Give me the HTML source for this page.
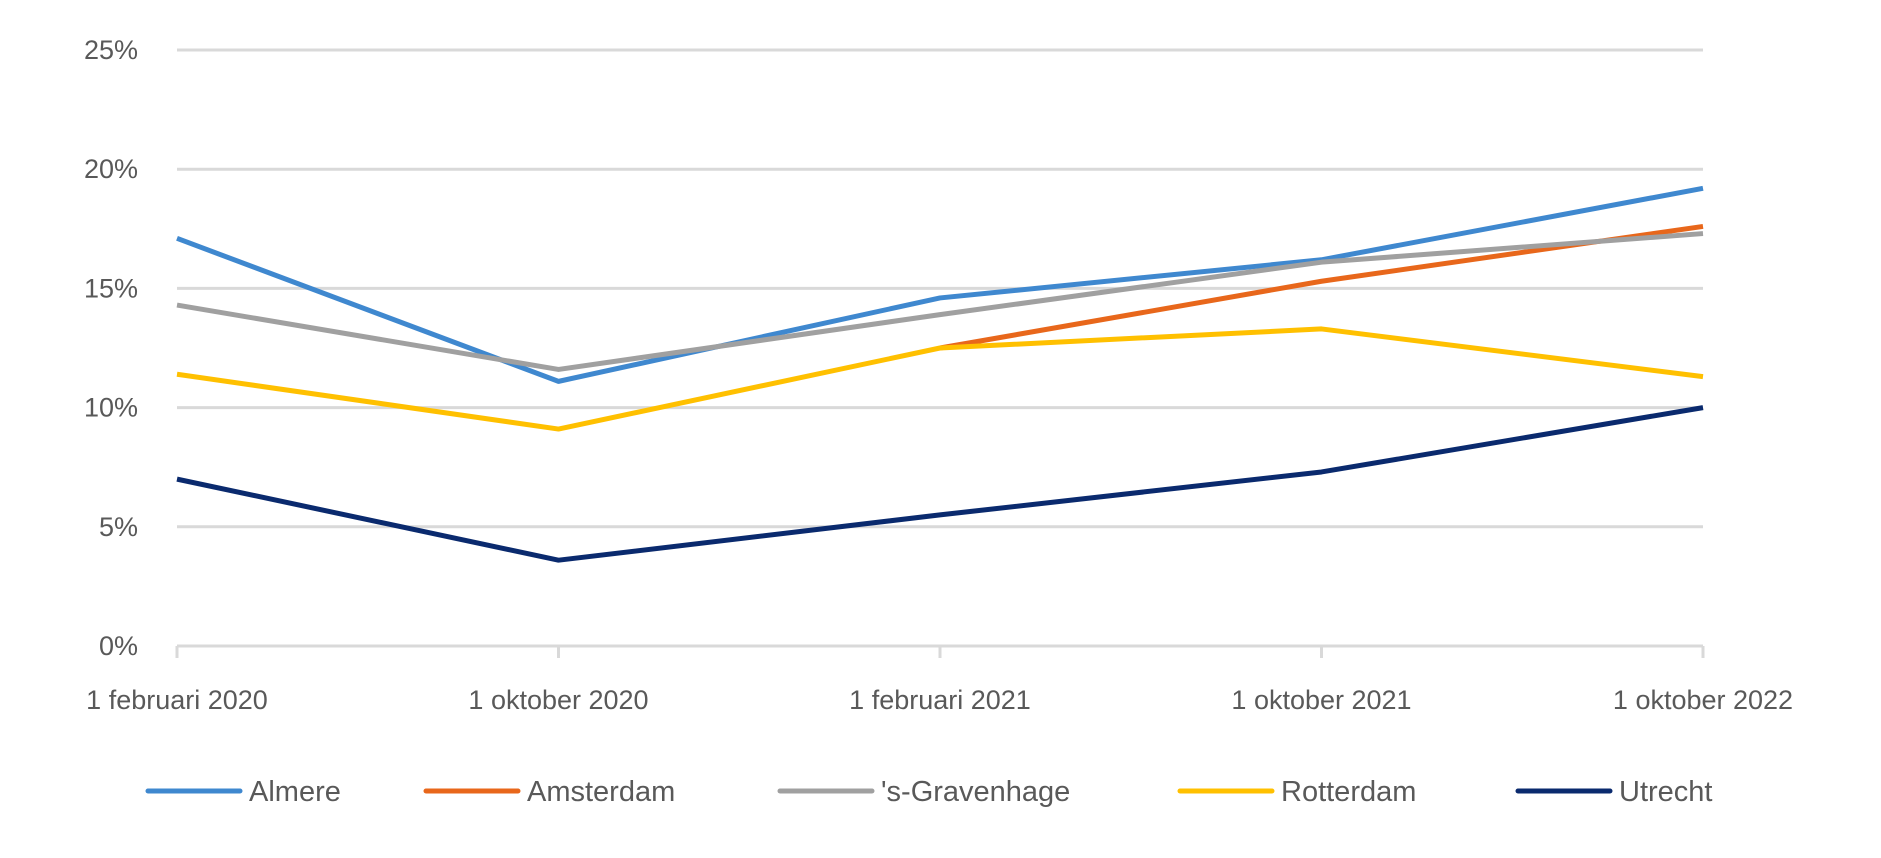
<!DOCTYPE html>
<html><head><meta charset="utf-8"><style>
html,body{margin:0;padding:0;background:#fff;}
svg{display:block;font-family:"Liberation Sans",sans-serif;}
</style></head><body>
<svg id="chart" width="1881" height="858"></svg>
<script>
const categories=["1 februari 2020","1 oktober 2020","1 februari 2021","1 oktober 2021","1 oktober 2022"];
const yTicks=[0,5,10,15,20,25];
const seriesNames=["Almere","Amsterdam","'s-Gravenhage","Rotterdam","Utrecht"];
const seriesColors=["#3f88cf","#e8671b","#a0a0a0","#ffc000","#0a2a6e"];
const almere=[17.1,11.1,14.6,16.2,19.2];
const amsterdam=[null,null,12.5,15.3,17.6];
const gravenhage=[14.3,11.6,13.9,16.1,17.3];
const rotterdam=[11.4,9.1,12.5,13.3,11.3];
const utrecht=[7.0,3.6,5.5,7.3,10.0];
const seriesData=[almere,amsterdam,gravenhage,rotterdam,utrecht];

const NS="http://www.w3.org/2000/svg";
const svg=document.getElementById('chart');
const X0=177,X1=1703,Y0=646,Y1=50;
const x=i=>X0+(X1-X0)*i/(categories.length-1);
const y=v=>Y0-(Y0-Y1)*v/25;
function mk(t,a,p){const e=document.createElementNS(NS,t);for(const k in a)e.setAttribute(k,a[k]);(p||svg).appendChild(e);return e;}

yTicks.forEach(t=>{
  const g=mk('line',{x1:X0,x2:X1,y1:y(t),y2:y(t),stroke:'#d9d9d9','stroke-width':3});
  
  
  const l=mk('text',{x:138,y:y(t)+9,'text-anchor':'end','font-size':27,fill:'#595959'});
  l.textContent=t+'%';
  
  
});
categories.forEach((c,i)=>{
  const tk=mk('line',{x1:x(i),x2:x(i),y1:Y0,y2:Y0+12,stroke:'#d9d9d9','stroke-width':3});
  
  
  const l=mk('text',{x:x(i),y:709,'text-anchor':'middle','font-size':27,fill:'#595959'});
  l.textContent=c;
  
  
});
seriesData.forEach((d,s)=>{
  let pts=[];
  d.forEach((v,i)=>{if(v!==null)pts.push(x(i)+','+y(v));});
  const p=mk('polyline',{points:pts.join(' '),fill:'none',stroke:seriesColors[s],'stroke-width':5,'stroke-linejoin':'round'});
  
  
});
const legX=[148,426,780,1180,1518];
seriesNames.forEach((n,s)=>{
  const g=mk('g',{});
  
  
  mk('line',{x1:legX[s],x2:legX[s]+92,y1:791,y2:791,stroke:seriesColors[s],'stroke-width':5,'stroke-linecap':'round'},g);
  const t=mk('text',{x:legX[s]+101,y:801,'font-size':29,fill:'#595959'},g);
  t.textContent=n;
});
</script>
</body></html>
